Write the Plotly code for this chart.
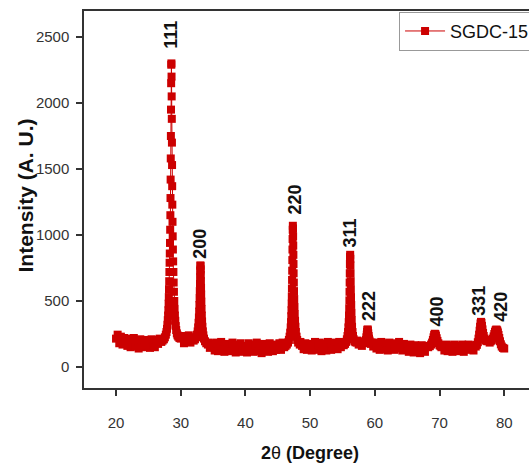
import plotly.graph_objects as go

# ---------------- data ----------------
# background points on a regular 0.25 deg grid (20.00 ... 80.00)
bg_start = 20.0
bg_step = 0.25
bg_counts = [
    215, 245, 180, 230, 170, 220, 190, 160, 215, 150, 200, 220, 155, 195, 140, 210, 175, 150, 205, 160,
    200, 145, 210, 160, 150, 205, 175, 215, 200, 215, 240, 300, 800, 600, 320, 260, 240, 225, 220, 215,
    215, 235, 180, 230, 195, 240, 185, 225, 210, 300, 700, 400, 250, 210, 190, 180, 175, 185, 145, 180,
    165, 125, 185, 120, 160, 190, 135, 115, 175, 130, 165, 120, 185, 140, 110, 170, 125, 180, 115, 160,
    150, 110, 180, 125, 170, 115, 160, 185, 120, 155, 105, 175, 130, 165, 115, 180, 145, 120, 170, 130,
    160, 180, 130, 185, 150, 170, 200, 300, 700, 1000, 600, 300, 200, 175, 190, 160, 135, 180, 130, 170,
    175, 125, 165, 190, 130, 160, 185, 120, 170, 175, 125, 190, 150, 130, 180, 140, 185, 135, 190, 150,
    175, 180, 220, 400, 800, 500, 260, 200, 190, 200, 170, 190, 160, 195, 220, 280, 230, 190, 185, 155,
    185, 140, 175, 130, 190, 160, 135, 180, 125, 185, 145, 170, 130, 180, 140, 190, 150, 125, 175, 140,
    160, 115, 170, 130, 110, 165, 120, 155, 105, 165, 135, 115, 160, 140, 170, 210, 250, 240, 200, 170,
    160, 150, 165, 125, 170, 120, 160, 140, 115, 170, 130, 160, 120, 150, 170, 115, 160, 130, 170, 140,
    160, 125, 165, 200, 300, 340, 300, 250, 210, 200, 205, 185, 220, 270, 280, 250, 200, 160, 150, 145,
    140,
]

# finely sampled reflections
p111_theta = [27.0, 27.2, 27.4, 27.55, 27.7, 27.8, 27.88, 27.95, 28.0, 28.05, 28.09, 28.13, 28.16,
              28.19, 28.22, 28.25, 28.28, 28.31, 28.34, 28.37, 28.4, 28.42, 28.44, 28.46, 28.48,
              28.5, 28.52, 28.54, 28.56, 28.58, 28.6, 28.62, 28.64, 28.66, 28.68, 28.7, 28.73,
              28.76, 28.79, 28.83, 28.87, 28.91, 28.95, 29.0, 29.05, 29.1, 29.16, 29.23, 29.3,
              29.4, 29.5, 29.62, 29.8, 30.0]
p111_counts = [190, 200, 210, 225, 245, 265, 290, 320, 355, 390, 430, 480, 530,
               590, 650, 720, 790, 860, 940, 1040, 1150, 1280, 1420, 1580, 1750,
               1950, 2150, 2290, 2300, 2200, 2050, 1880, 1700, 1530, 1370, 1230, 1100,
               990, 890, 800, 720, 640, 570, 500, 440, 390, 350, 310, 280,
               255, 240, 230, 220, 215]

p200_theta = [32.0, 32.2, 32.4, 32.52, 32.62, 32.7, 32.76, 32.81, 32.85, 32.89, 32.92, 32.95,
              32.98, 33.0, 33.02, 33.04, 33.06, 33.08, 33.1, 33.12, 33.14, 33.16, 33.19, 33.22,
              33.26, 33.3, 33.35, 33.42, 33.5, 33.6, 33.75, 33.95, 34.2]
p200_counts = [200, 210, 225, 245, 270, 300, 335, 375, 420, 470, 520, 575,
               630, 680, 730, 770, 765, 740, 700, 650, 600, 550, 495, 440,
               390, 345, 305, 270, 240, 215, 195, 180, 170]

p220_theta = [46.2, 46.4, 46.58, 46.72, 46.83, 46.92, 47.0, 47.05, 47.09, 47.12, 47.15, 47.17,
              47.19, 47.21, 47.23, 47.25, 47.27, 47.29, 47.31, 47.33, 47.35, 47.37, 47.39, 47.41,
              47.43, 47.45, 47.48, 47.51, 47.54, 47.58, 47.62, 47.67, 47.73, 47.8, 47.9, 48.0,
              48.15, 48.4]
p220_counts = [160, 170, 185, 205, 230, 260, 300, 340, 385, 430, 480, 535,
               595, 660, 730, 810, 890, 970, 1040, 1070, 1050, 990, 920, 850,
               780, 710, 640, 575, 515, 455, 400, 350, 305, 265, 230, 205,
               185, 170]

p311_theta = [55.2, 55.4, 55.56, 55.68, 55.78, 55.86, 55.92, 55.97, 56.01, 56.04, 56.07, 56.09,
              56.11, 56.13, 56.15, 56.17, 56.19, 56.21, 56.23, 56.25, 56.27, 56.29, 56.32, 56.35,
              56.39, 56.43, 56.48, 56.55, 56.63, 56.73, 56.85, 57.0, 57.2]
p311_counts = [165, 175, 190, 210, 235, 265, 300, 340, 390, 445, 505, 570,
               640, 710, 780, 835, 850, 820, 770, 710, 650, 590, 530, 470,
               410, 355, 305, 265, 235, 210, 195, 188, 185]

p222_theta = [58.4, 58.52, 58.62, 58.7, 58.76, 58.81, 58.85, 58.89, 58.93, 58.98, 59.04, 59.1,
              59.18, 59.28, 59.4]
p222_counts = [180, 190, 205, 225, 245, 265, 280, 285, 275, 255, 235, 215,
               200, 185, 175]

p400_theta = [68.25, 68.5, 68.7, 68.85, 68.98, 69.08, 69.17, 69.26, 69.35, 69.45, 69.56, 69.68,
              69.82, 70.0, 70.15, 70.3]
p400_counts = [150, 158, 170, 185, 205, 225, 242, 252, 250, 238, 218, 198,
               180, 165, 158, 150]

p331_theta = [75.6, 75.78, 75.92, 76.03, 76.12, 76.2, 76.27, 76.34, 76.41, 76.48, 76.56, 76.64,
              76.73, 76.83, 76.95, 77.1, 77.25, 77.4]
p331_counts = [155, 168, 188, 215, 245, 275, 305, 330, 342, 335, 312, 285,
               258, 235, 215, 203, 198, 195]

p420_theta = [77.9, 78.08, 78.24, 78.36, 78.47, 78.57, 78.66, 78.75, 78.84, 78.93, 79.02, 79.12,
              79.23, 79.35, 79.48, 79.62, 79.8]
p420_counts = [195, 202, 215, 232, 250, 266, 277, 283, 282, 275, 262, 243,
               220, 195, 172, 155, 145]

hkl_labels = ["111", "200", "220", "311", "222", "400", "331", "420"]
series_name = "SGDC-15"

# --------------- styles ---------------
RED = "#CC0000"
FONT = "Arial, Liberation Sans, sans-serif"
label_dx = [0, 0, 2, 0, 2, 2, -2, 5]       # pixel nudges of the hkl labels
label_dy = [13, 5, 9, 5, 6, 5, 4, 6]

# --------------- assemble ---------------
peaks = [(p111_theta, p111_counts), (p200_theta, p200_counts), (p220_theta, p220_counts),
         (p311_theta, p311_counts), (p222_theta, p222_counts), (p400_theta, p400_counts),
         (p331_theta, p331_counts), (p420_theta, p420_counts)]
windows = [(min(t), max(t)) for t, _ in peaks]
bg_theta = [bg_start + i * bg_step for i in range(len(bg_counts))]
pts = [(x, y) for x, y in zip(bg_theta, bg_counts)
       if not any(a <= x <= b for a, b in windows)]
for t, c in peaks:
    pts += list(zip(t, c))
pts.sort()
xs = [p[0] for p in pts]
ys = [p[1] for p in pts]

fig = go.Figure()
fig.add_trace(go.Scatter(
    x=xs, y=ys, mode="lines+markers", name=series_name,
    line=dict(color=RED, width=1),
    marker=dict(symbol="square", size=8, color=RED, line=dict(width=0)),
))

annotations = []
for (t, c), lab, dx, dy in zip(peaks, hkl_labels, label_dx, label_dy):
    k = c.index(max(c))
    annotations.append(dict(
        x=t[k], y=c[k], xref="x", yref="y", text=lab, showarrow=False,
        textangle=-90, xanchor="center", yanchor="bottom", xshift=dx, yshift=dy,
        font=dict(family=FONT, size=18, color="#111", weight="bold"),
    ))
annotations.append(dict(
    x=0, y=0.5, xref="paper", yref="paper", text="Intensity (A. U.)", showarrow=False,
    textangle=-90, xanchor="center", yanchor="middle", xshift=-59, yshift=4,
    font=dict(family=FONT, size=21, color="#111", weight="bold"),
))
annotations.append(dict(
    x=50, y=0, xref="x", yref="paper", text="<b>2</b>θ <b>(Degree)</b>", showarrow=False,
    xanchor="center", yanchor="middle", yshift=-65,
    font=dict(family=FONT, size=18, color="#111"),
))

fig.update_layout(
    width=529, height=466,
    margin=dict(l=84, r=0, t=11, b=78, autoexpand=False),
    paper_bgcolor="white", plot_bgcolor="white",
    font=dict(family=FONT, color="#333"),
    showlegend=True,
    legend=dict(
        x=0.708, y=0.998, xanchor="left", yanchor="top",
        bgcolor="white", bordercolor="#999", borderwidth=1,
        font=dict(family=FONT, size=18, color="#111"),
        itemwidth=40,
    ),
    annotations=annotations,
)
fig.update_xaxes(
    range=[15.05, 83.83], tickmode="linear", tick0=20, dtick=10,
    ticks="outside", ticklen=6, tickwidth=1.5, tickcolor="#333",
    showline=True, linecolor="#333", linewidth=1.5, mirror=True,
    showgrid=False, zeroline=False,
    tickfont=dict(family=FONT, size=15, color="#333"),
    ticklabelstandoff=14,
)
fig.update_yaxes(
    range=[-159, 2697], tickmode="linear", tick0=0, dtick=500,
    ticks="outside", ticklen=6, tickwidth=1.5, tickcolor="#333",
    showline=True, linecolor="#333", linewidth=1.5, mirror=False,
    showgrid=False, zeroline=False,
    tickfont=dict(family=FONT, size=15, color="#333"),
    ticklabelstandoff=4,
)

fig.write_html("out.html")
